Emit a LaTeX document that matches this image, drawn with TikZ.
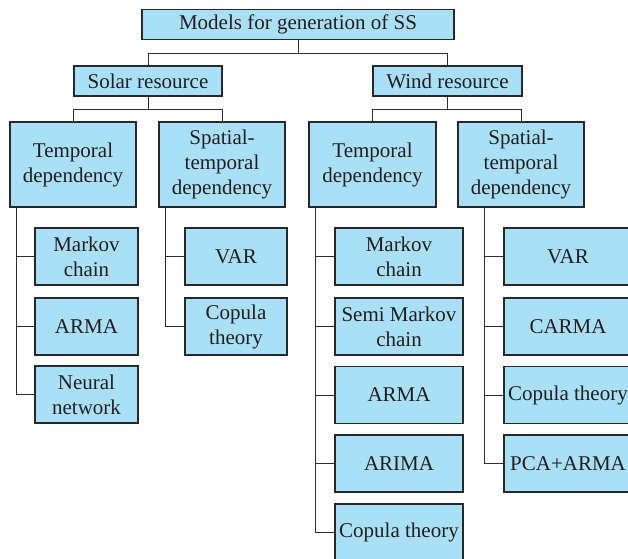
\documentclass[tikz,border=0pt]{standalone}
\usepackage{fontspec}
\setmainfont{Liberation Serif}
\definecolor{boxfill}{RGB}{170,223,248}
\definecolor{boxline}{RGB}{40,40,40}
\definecolor{wire}{RGB}{45,45,45}
\begin{document}
\begin{tikzpicture}[x=1pt,y=-1pt,
  box/.style={draw=boxline,fill=boxfill,line width=1.2pt,inner sep=0pt,align=center,
    font=\fontsize{21}{25}\selectfont,text=black!88},
  head/.style={box,minimum height=30pt},
  group/.style={box,minimum width=126pt,minimum height=85pt},
  leaf/.style={box,minimum height=57pt},
  link/.style={draw=wire,line width=1pt},
  trunk/.style={draw=wire,line width=1.7pt}]
\useasboundingbox (0,0) rectangle (628,558);
\clip (0,0) rectangle (628,558);

% root and the two resources
\node[head,minimum width=312pt] (root) at (298,24.5) {Models for generation of SS};
\node[head,minimum width=148pt] (solar) at (148,81) {Solar resource};
\node[head,minimum width=149pt] (wind) at (447.5,81) {Wind resource};

% dependency groups
\node[group] (st) at (73,164.5) {Temporal\\dependency};
\node[group] (ss) at (222,164.5) {Spatial-\\temporal\\dependency};
\node[group,minimum width=127pt] (wt) at (372.5,164.5) {Temporal\\dependency};
\node[group] (ws) at (521,164.5) {Spatial-\\temporal\\dependency};

% solar, temporal
\node[leaf,minimum width=103pt] (st1) at (86.5,256.5) {Markov\\chain};
\node[leaf,minimum width=103pt] (st2) at (86.5,326.5) {ARMA};
\node[leaf,minimum width=103pt] (st3) at (86.5,394.5) {Neural\\network};
% solar, spatial-temporal
\node[leaf,minimum width=102pt] (ss1) at (236,256.5) {VAR};
\node[leaf,minimum width=102pt] (ss2) at (236,326.5) {Copula\\theory};
% wind, temporal
\node[leaf,minimum width=128pt] (wt1) at (399,256.5) {Markov\\chain};
\node[leaf,minimum width=128pt] (wt2) at (399,326.5) {Semi Markov\\chain};
\node[leaf,minimum width=128pt] (wt3) at (399,395) {ARMA};
\node[leaf,minimum width=128pt] (wt4) at (399,463.5) {ARIMA};
\node[leaf,minimum width=128pt] (wt5) at (399,532.5) {Copula theory};
% wind, spatial-temporal
\node[leaf,minimum width=128pt] (ws1) at (568,256.5) {VAR};
\node[leaf,minimum width=128pt] (ws2) at (568,326.5) {CARMA};
\node[leaf,minimum width=128pt] (ws3) at (568,395) {Copula theory};
\node[leaf,minimum width=128pt] (ws4) at (568,463.5) {PCA+ARMA};

% tree connectors
\path[link] (root.south) -- ([yshift=-13pt]root.south) -| (solar.north);
\path[link] ([yshift=-13pt]root.south) -| (wind.north);
\path[link] (solar.south) -- ([yshift=-13pt]solar.south) -| (st.north);
\path[link] ([yshift=-13pt]solar.south) -| (ss.north);
\path[link] (wind.south) -- ([yshift=-13pt]wind.south) -| (wt.north);
\path[link] ([yshift=-13pt]wind.south) -| (ws.north);

% side trunks down to the methods, with a short branch to each
\foreach \l in {st1,st2,st3} \path[link] ([xshift=7pt]st.south west) |- (\l.west);
\path[trunk] ([xshift=7pt]st.south west) -- ([xshift=7pt]st.south west |- st3.west);
\foreach \l in {ss1,ss2} \path[link] ([xshift=7pt]ss.south west) |- (\l.west);
\path[trunk] ([xshift=7pt]ss.south west) -- ([xshift=7pt]ss.south west |- ss2.west);
\foreach \l in {wt1,wt2,wt3,wt4,wt5} \path[link] ([xshift=7pt]wt.south west) |- (\l.west);
\path[trunk] ([xshift=7pt]wt.south west) -- ([xshift=7pt]wt.south west |- wt5.west);
\foreach \l in {ws1,ws2,ws3,ws4} \path[link] ([xshift=27pt]ws.south west) |- (\l.west);
\path[trunk] ([xshift=27pt]ws.south west) -- ([xshift=27pt]ws.south west |- ws4.west);
\end{tikzpicture}
\end{document}
